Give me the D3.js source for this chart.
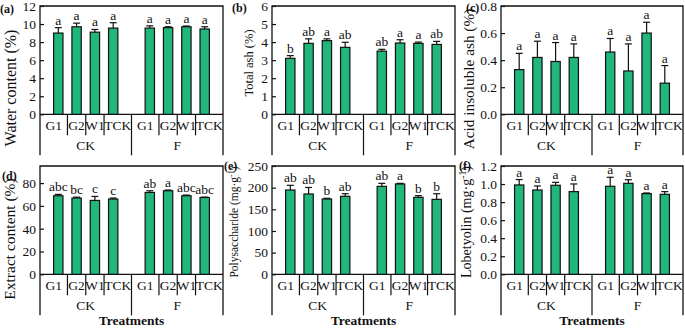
<!DOCTYPE html>
<html>
<head>
<meta charset="utf-8">
<script src="https://cdn.jsdelivr.net/npm/d3@7"></script>
<style>
  body { margin: 0; background: #fff; }
  svg { display: block; font-family: "Liberation Serif", "Times New Roman", serif; }
</style>
</head>
<body>
<svg id="chart" width="685" height="329"></svg>
<script>
// categories
const groups = ["CK", "F"]
const treatments = ["G1", "G2", "W1", "TCK"]

// (a) water content
const waterMean = [9.0, 9.7, 9.1, 9.55, 9.55, 9.6, 9.7, 9.45]
const waterErr = [0.6, 0.4, 0.3, 0.6, 0.25, 0.1, 0.08, 0.25]
const waterSig = ["a", "a", "a", "a", "a", "a", "a", "a"]
const waterTicks = [0, 2, 4, 6, 8, 10, 12]

// (b) total ash
const ashMean = [3.10, 3.93, 4.08, 3.71, 3.50, 3.95, 3.93, 3.87]
const ashErr = [0.15, 0.25, 0.10, 0.28, 0.10, 0.18, 0.07, 0.17]
const ashSig = ["b", "ab", "a", "ab", "ab", "a", "a", "ab"]
const ashTicks = [0, 1, 2, 3, 4, 5, 6]

// (c) acid insoluble ash
const acidMean = [0.33, 0.42, 0.39, 0.42, 0.46, 0.32, 0.60, 0.23]
const acidErr = [0.12, 0.12, 0.14, 0.10, 0.10, 0.20, 0.08, 0.13]
const acidSig = ["a", "a", "a", "a", "a", "a", "a", "a"]
const acidTicks = [0, 0.2, 0.4, 0.6, 0.8]

// (d) extract content
const extractMean = [68.9, 66.9, 64.8, 66.0, 71.8, 73.3, 68.9, 67.4]
const extractErr = [1.2, 0.8, 3.5, 0.9, 1.5, 0.6, 0.6, 0.3]
const extractSig = ["abc", "bc", "c", "c", "ab", "a", "abc", "abc"]
const extractTicks = [0, 20, 40, 60, 80]

// (e) polysaccharide
const polyMean = [194.6, 185.4, 173.8, 180.0, 203.0, 208.5, 177.7, 173.0]
const polyErr = [10.8, 15.0, 1.6, 6.0, 7.0, 1.5, 3.8, 13.0]
const polySig = ["ab", "ab", "b", "ab", "ab", "a", "b", "b"]
const polyTicks = [0, 50, 100, 150, 200, 250]

// (f) lobetyolin
const lobMean = [0.99, 0.934, 0.986, 0.916, 0.975, 1.008, 0.894, 0.886]
const lobErr = [0.06, 0.045, 0.033, 0.085, 0.10, 0.04, 0.007, 0.03]
const lobSig = ["a", "a", "a", "a", "a", "a", "a", "a"]
const lobTicks = [0, 0.2, 0.4, 0.6, 0.8, 1.0, 1.2]

const barColor = "#22b77a"
const svg = d3.select("#chart")

const panels = [
    { tag: "(a)", mean: waterMean, err: waterErr, sig: waterSig, ticks: waterTicks, max: 12, fmt: d3.format("d"),
      label: ["Water content (%)"], left: 40, right: 223, top: 6, tagX: 0, tagY: 13, labX: 10, labY: 88, labSize: 16 },
    { tag: "(b)", mean: ashMean, err: ashErr, sig: ashSig, ticks: ashTicks, max: 6, fmt: d3.format("d"),
      label: ["Total ash (%)"], left: 272, right: 455, top: 6, tagX: 232, tagY: 12, labX: 249, labY: 63, labSize: 12.5 },
    { tag: "(c)", mean: acidMean, err: acidErr, sig: acidSig, ticks: acidTicks, max: 0.8, fmt: d3.format(".1f"),
      label: ["Acid insoluble ash (%)"], left: 501, right: 683, top: 6, tagX: 466, tagY: 12, labX: 469, labY: 79, labSize: 15.3 },
    { tag: "(d)", mean: extractMean, err: extractErr, sig: extractSig, ticks: extractTicks, max: 95, fmt: d3.format("d"),
      label: ["Extract content (%)"], left: 40, right: 223, top: 166, tagX: 2, tagY: 180, labX: 10, labY: 239, labSize: 15.5 },
    { tag: "(e)", mean: polyMean, err: polyErr, sig: polySig, ticks: polyTicks, max: 250, fmt: d3.format("d"),
      label: ["Polysaccharide (mg·g", "-1", ")"], left: 272, right: 455, top: 166, tagX: 224, tagY: 170, labX: 234, labY: 222, labSize: 11.5 },
    { tag: "(f)", mean: lobMean, err: lobErr, sig: lobSig, ticks: lobTicks, max: 1.2, fmt: d3.format(".1f"),
      label: ["Lobetyolin (mg·g", "-1", ")"], left: 501, right: 683, top: 166, tagX: 459, tagY: 170, labX: 466, labY: 222, labSize: 14 }
]

// slot index of each bar: CK 0..3, gap, F 5..8
const slots = [0, 1, 2, 3, 5, 6, 7, 8]

const drawPanel = (p, row) => {
    const bottom = p.top + 108.3
    const g = svg.append("g")

    const x = d3.scaleLinear().domain([-1, 9]).range([p.left, p.right])
    const y = d3.scaleLinear().domain([0, p.max]).range([bottom, p.top])
    const step = x(1) - x(0)
    const bw = step * 0.51

    // frame: top, left, right (left/right run down past the category rows)
    g.append("path")
        .attr("d", `M${p.left},${bottom + 41}V${p.top}H${p.right}V${bottom + 41}`)
        .attr("fill", "none").attr("stroke", "#111").attr("stroke-width", 1.3)
    g.append("line")
        .attr("x1", p.left).attr("x2", p.right).attr("y1", bottom).attr("y2", bottom)
        .attr("stroke", "#111").attr("stroke-width", 1.3)

    // y axis, ticks pointing inward
    const yAxis = d3.axisLeft(y).tickValues(p.ticks).tickFormat(p.fmt).tickSizeInner(-4).tickSizeOuter(0).tickPadding(4)
    const ax = g.append("g").attr("transform", `translate(${p.left},0)`).call(yAxis)
    ax.attr("font-family", null).attr("font-size", null)
    ax.select(".domain").remove()
    ax.selectAll("line").attr("stroke", "#111").attr("stroke-width", 1.2)
    ax.selectAll("text").attr("font-size", 13.5).attr("fill", "#111")

    // bars
    g.append("g").selectAll("rect")
        .data(p.mean)
        .enter()
        .append("rect")
            .attr("x", (d, i) => x(slots[i]) - bw / 2)
            .attr("y", d => y(d))
            .attr("width", bw)
            .attr("height", d => bottom - y(d))
            .attr("fill", barColor)
            .attr("stroke", "#111")
            .attr("stroke-width", 1.2)

    // upper error bars
    const eb = g.append("g").attr("stroke", "#111").attr("stroke-width", 1.2)
    p.mean.forEach((d, i) => {
        const cx = x(slots[i])
        const ye = y(d + p.err[i])
        eb.append("line").attr("x1", cx).attr("x2", cx).attr("y1", y(d)).attr("y2", ye)
        eb.append("line").attr("x1", cx - 3.5).attr("x2", cx + 3.5).attr("y1", ye).attr("y2", ye)
    })

    // significance letters
    g.append("g").selectAll("text")
        .data(p.sig)
        .enter()
        .append("text")
            .attr("x", (d, i) => x(slots[i]))
            .attr("y", (d, i) => y(p.mean[i] + p.err[i]) - 3)
            .attr("text-anchor", "middle")
            .attr("font-size", 13.5)
            .attr("fill", "#111")
            .text(d => d)

    // category separators and labels
    const sep = g.append("g").attr("stroke", "#111").attr("stroke-width", 1.2)
    slots.forEach((s, i) => {
        if (i % 4 != 0) {
            sep.append("line").attr("x1", x(s - 0.5)).attr("x2", x(s - 0.5)).attr("y1", bottom).attr("y2", bottom + 21)
        }
    })
    sep.append("line").attr("x1", x(4)).attr("x2", x(4)).attr("y1", bottom).attr("y2", bottom + 41)

    slots.forEach((s, i) => {
        const lo = i == 0 ? -1 : (i == 4 ? 4 : s - 0.5)
        const hi = i == 3 ? 4 : (i == 7 ? 9 : s + 0.5)
        g.append("text")
            .attr("x", (x(lo) + x(hi)) / 2)
            .attr("y", bottom + 15.5)
            .attr("text-anchor", "middle")
            .attr("font-size", 13.5)
            .attr("fill", "#111")
            .text(treatments[i % 4])
    })
    groups.forEach((grp, k) => {
        g.append("text")
            .attr("x", k == 0 ? (x(-1) + x(4)) / 2 : (x(4) + x(9)) / 2)
            .attr("y", bottom + 36)
            .attr("text-anchor", "middle")
            .attr("font-size", 13.5)
            .attr("fill", "#111")
            .text(grp)
    })

    if (row == 1) {
        g.append("text")
            .attr("x", (p.left + p.right) / 2)
            .attr("y", 325)
            .attr("text-anchor", "middle")
            .attr("font-size", 13.5)
            .attr("font-weight", "bold")
            .attr("fill", "#111")
            .text("Treatments")
    }

    // panel tag
    g.append("text")
        .attr("x", p.tagX).attr("y", p.tagY)
        .attr("font-size", 12).attr("font-weight", "bold").attr("fill", "#111")
        .text(p.tag)

    // y label
    const lab = g.append("text")
        .attr("transform", `translate(${p.labX},${p.labY}) rotate(-90)`)
        .attr("x", 0).attr("y", 0).attr("dy", "0.35em")
        .attr("text-anchor", "middle")
        .attr("font-size", p.labSize)
        .attr("fill", "#111")
    lab.append("tspan").text(p.label[0])
    if (p.label.length > 1) {
        lab.append("tspan").attr("dy", -p.labSize * 0.35).attr("font-size", p.labSize * 0.7).text(p.label[1])
        lab.append("tspan").attr("dy", p.labSize * 0.35).text(p.label[2])
    }
}

panels.forEach((p, i) => drawPanel(p, i < 3 ? 0 : 1))
</script>
</body>
</html>
